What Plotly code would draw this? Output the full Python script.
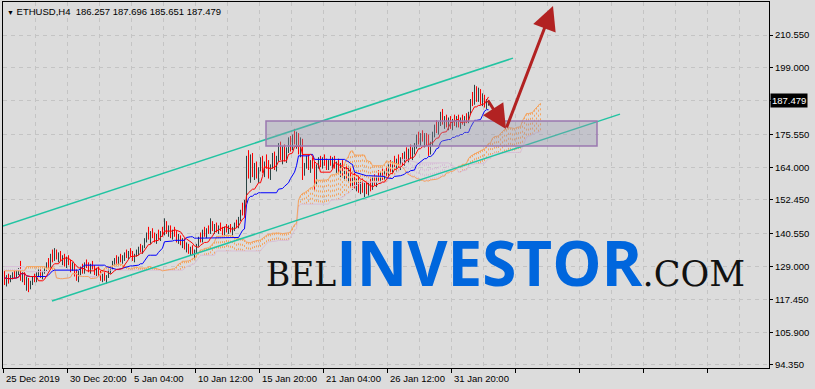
import plotly.graph_objects as go
import pandas as pd

# ---------------- data (ETHUSD, H4) ----------------
opens = [
126.0,123.5,125.0,124.0,125.5,126.5,125.5,127.5,128.0,125.0,
126.5,123.0,124.5,121.5,123.5,125.0,124.0,126.5,127.5,125.5,
127.0,128.5,130.0,129.0,133.0,131.5,134.5,132.0,133.5,131.5,
132.5,130.0,131.5,130.0,128.0,129.5,126.5,125.0,127.0,128.5,
127.0,130.0,129.0,128.0,129.5,128.5,126.5,128.0,126.0,124.5,
126.0,124.5,125.5,127.5,128.5,130.5,131.5,130.5,132.0,131.0,
132.5,133.5,132.5,134.0,133.0,131.5,133.0,134.5,135.5,134.5,
136.0,138.5,140.0,139.0,140.5,139.5,138.0,140.0,139.0,141.0,
140.5,144.0,141.0,142.5,139.5,141.5,140.0,138.0,139.5,137.0,
138.5,135.5,136.5,134.0,135.5,133.5,134.5,136.5,139.0,138.0,
141.5,140.0,142.0,141.0,144.5,142.0,143.5,141.5,143.0,142.0,
140.5,142.5,141.5,143.0,141.5,142.5,144.0,143.0,146.0,148.5,
147.5,152.0,166.5,162.0,167.0,161.5,164.5,160.5,163.5,166.5,
162.5,165.5,164.0,161.0,164.5,168.0,164.0,167.5,171.5,167.0,
170.5,167.0,170.0,173.5,170.5,175.0,173.5,175.5,169.5,173.0,
162.0,164.5,167.0,163.5,166.0,164.5,158.5,164.5,166.5,165.0,
167.0,165.5,163.5,166.0,165.0,167.0,164.0,165.5,162.0,164.5,
161.5,163.5,160.5,162.5,157.5,160.0,157.0,159.0,156.0,158.5,
155.5,157.5,155.0,158.0,156.5,160.0,158.0,160.5,159.5,162.0,
160.0,162.5,161.5,164.5,162.5,165.5,164.5,166.5,165.0,167.0,
165.5,169.0,166.5,170.0,167.5,170.5,171.5,175.0,172.5,175.5,
173.5,175.0,172.0,169.5,172.5,176.0,178.5,177.0,179.5,183.0,
179.5,181.5,178.5,181.0,178.0,180.5,179.0,181.5,178.5,181.0,
179.5,181.5,180.0,183.0,187.5,186.5,191.5,188.0,191.0,186.5,189.0,185.5,186.257]
highs = [
127.5,126.0,126.5,126.0,127.0,127.5,128.0,128.5,131.0,127.0,
127.0,125.5,125.0,124.0,125.5,126.5,127.0,128.0,128.0,127.5,
129.0,130.5,132.0,133.5,135.0,135.5,135.0,134.0,134.5,133.0,
133.5,132.5,133.0,131.5,130.5,130.0,128.0,127.5,129.0,130.0,
130.5,131.5,130.5,130.0,131.0,129.5,128.5,129.0,127.5,126.5,
127.0,126.0,128.0,129.0,131.0,132.0,133.0,132.5,133.5,133.0,
134.0,135.0,134.5,135.5,134.5,133.5,135.0,136.0,137.0,136.5,
139.0,141.0,143.0,141.5,142.5,141.0,140.5,142.0,141.5,143.0,
146.0,145.0,143.5,143.5,142.0,143.0,141.5,140.5,140.0,139.0,
139.0,137.5,137.0,136.0,136.5,135.0,137.0,139.5,141.0,142.0,
143.0,142.5,143.5,146.0,145.0,144.0,144.5,143.5,144.5,143.0,
143.0,144.0,143.5,144.0,143.0,144.5,145.5,146.5,149.0,151.5,
152.5,168.0,170.0,168.5,169.0,165.5,166.0,164.0,167.5,168.0,
166.0,168.5,166.5,165.0,169.0,169.5,168.0,172.5,173.0,171.5,
172.0,171.0,174.5,175.0,175.5,177.5,176.5,176.0,174.5,174.0,
165.5,168.0,168.5,166.5,167.5,166.0,165.0,167.5,168.0,167.5,
168.5,167.0,166.5,168.0,167.5,168.0,166.0,167.0,165.5,166.5,
164.0,165.0,164.5,164.0,161.0,162.0,160.0,160.5,159.5,160.0,
158.5,159.0,158.5,160.0,160.5,161.5,161.0,163.0,162.5,163.5,
163.0,164.0,165.0,166.5,166.0,168.0,167.0,168.5,167.5,169.0,
169.5,171.0,170.5,172.0,171.0,172.5,175.5,176.5,176.0,177.0,
176.0,176.0,175.5,173.0,176.5,179.0,180.5,180.0,183.5,184.5,
182.0,182.5,181.5,182.0,181.0,182.5,182.0,182.5,181.5,182.5,
182.0,183.0,183.5,188.0,190.5,193.0,192.5,192.0,191.5,190.0,189.5,188.0,187.696]
lows = [
122.5,122.0,123.0,123.5,124.5,125.0,125.0,126.0,124.0,123.5,
122.5,120.5,120.0,121.0,122.5,123.5,123.5,125.5,125.0,124.5,
126.5,127.5,128.5,128.5,130.5,131.0,131.5,130.5,131.0,129.5,
129.0,128.5,129.5,127.0,127.5,125.5,124.0,123.5,126.0,126.5,
126.5,128.5,127.0,126.5,128.0,126.0,125.5,125.5,124.0,123.5,
124.0,123.0,125.0,126.5,128.0,129.5,130.0,129.5,130.5,130.0,
131.0,132.0,131.5,132.5,131.0,130.5,132.5,133.0,134.0,133.5,
135.5,137.5,138.5,137.0,139.0,137.5,137.0,138.5,138.0,139.5,
140.0,140.5,139.5,139.0,138.5,139.5,137.5,137.0,136.5,135.5,
135.0,134.0,133.5,133.0,133.0,132.0,133.5,136.0,137.5,137.5,
139.5,139.0,140.5,140.5,141.5,140.5,141.0,140.5,141.5,140.0,
140.0,141.0,140.5,141.0,140.0,141.5,142.5,142.5,145.0,147.0,
147.0,151.5,160.0,158.5,160.5,159.5,160.0,158.5,162.5,162.0,
160.5,163.5,160.0,159.5,163.5,163.0,162.5,166.0,166.5,165.0,
166.0,165.5,169.0,169.5,170.0,172.0,170.5,168.5,167.5,159.5,
161.0,163.5,163.0,162.0,163.5,156.0,158.0,163.5,164.0,163.5,
164.5,163.0,163.0,164.5,163.5,163.5,162.0,161.5,160.5,161.0,
159.5,160.0,158.5,157.0,156.0,156.5,155.5,155.0,154.5,155.0,
153.5,154.5,154.0,155.5,156.0,157.5,157.0,159.0,158.5,159.5,
159.5,160.5,161.0,162.0,162.0,164.0,162.5,164.0,163.0,164.5,
164.5,166.0,165.5,167.0,166.5,168.5,170.5,172.0,171.5,173.0,
171.0,171.5,168.0,168.5,171.5,174.5,176.0,175.5,178.5,179.0,
177.5,178.0,177.0,177.5,177.0,178.5,178.0,178.0,177.5,179.0,
178.5,179.5,179.5,182.5,185.5,186.0,187.0,187.0,186.0,185.5,185.0,184.5,185.651]
closes = [
123.5,125.0,124.0,125.5,126.5,125.5,127.5,128.0,125.0,126.5,
123.0,124.5,121.5,123.5,125.0,124.0,126.5,127.5,125.5,127.0,
128.5,130.0,129.0,133.0,131.5,134.5,132.0,133.5,131.5,132.5,
130.0,131.5,130.0,128.0,129.5,126.5,125.0,127.0,128.5,127.0,
130.0,129.0,128.0,129.5,128.5,126.5,128.0,126.0,124.5,126.0,
124.5,125.5,127.5,128.5,130.5,131.5,130.5,132.0,131.0,132.5,
133.5,132.5,134.0,133.0,131.5,133.0,134.5,135.5,134.5,136.0,
138.5,140.0,139.0,140.5,139.5,138.0,140.0,139.0,141.0,140.5,
144.0,141.0,142.5,139.5,141.5,140.0,138.0,139.5,137.0,138.5,
135.5,136.5,134.0,135.5,133.5,134.5,136.5,139.0,138.0,141.5,
140.0,142.0,141.0,144.5,142.0,143.5,141.5,143.0,142.0,140.5,
142.5,141.5,143.0,141.5,142.5,144.0,143.0,146.0,148.5,147.5,
152.0,166.5,162.0,167.0,161.5,164.5,160.5,163.5,166.5,162.5,
165.5,164.0,161.0,164.5,168.0,164.0,167.5,171.5,167.0,170.5,
167.0,170.0,173.5,170.5,175.0,173.5,175.5,169.5,173.0,162.0,
164.5,167.0,163.5,166.0,164.5,158.5,164.5,166.5,165.0,167.0,
165.5,163.5,166.0,165.0,167.0,164.0,165.5,162.0,164.5,161.5,
163.5,160.5,162.5,157.5,160.0,157.0,159.0,156.0,158.5,155.5,
157.5,155.0,158.0,156.5,160.0,158.0,160.5,159.5,162.0,160.0,
162.5,161.5,164.5,162.5,165.5,164.5,166.5,165.0,167.0,165.5,
169.0,166.5,170.0,167.5,170.5,171.5,175.0,172.5,175.5,173.5,
175.0,172.0,169.5,172.5,176.0,178.5,177.0,179.5,183.0,179.5,
181.5,178.5,181.0,178.0,180.5,179.0,181.5,178.5,181.0,179.5,
181.5,180.0,183.0,187.5,186.5,191.5,188.0,191.0,186.5,189.0,185.5,186.3,187.479]

# Ichimoku cloud values for the first 26 positions (from bars before the visible window)
span_a_pre = [127.5,127.5,127.5,127.5,127.5,127.5,127.5,127.5,127.5,127.5,127.5,
              129.0,129.0,129.0,129.0,129.0,129.0,129.0,129.0,129.0,129.0,
              128.5,128.5,128.5,128.5,128.5]
span_b_pre = [129.0,129.0,129.0,129.0,129.0,129.0,129.0,129.0,129.0,129.0,129.0,
              127.2,127.2,127.2,127.2,127.2,127.2,127.2,127.2,127.2,127.2,
              127.2,127.2,127.2,127.2,127.2]

# axis ticks
y_tickvals = [94.35, 105.9, 117.45, 129.0, 140.55, 152.45, 164.0, 175.55, 187.45, 199.0, 210.55]
y_ticktext = ["94.350", "105.900", "117.450", "129.000", "140.550", "152.450",
              "164.000", "175.550", "", "199.000", "210.550"]
x_label_bars = [0, 32, 64, 96, 128, 160, 192, 224]
x_labels = ["25 Dec 2019", "30 Dec 20:00", "5 Jan 04:00", "10 Jan 12:00",
            "15 Jan 20:00", "21 Jan 04:00", "26 Jan 12:00", "31 Jan 20:00"]

# drawn objects (in bar index / price units)
channel_upper_x = [-0.75, 254.25]
channel_upper_y = [143.3, 202.4]
channel_lower_x = [23.75, 307.75]
channel_lower_y = [116.9, 182.7]
zone_x = [130.75, 296.25]
zone_y = [171.5, 180.3]
arrow_down_x = [241.25, 250.75]
arrow_down_y = [188.0, 177.45]
arrow_up_x = [250.75, 274.25]
arrow_up_y = [177.45, 220.8]

last_price = closes[-1]

# ---------------- Ichimoku lines from the bars ----------------
n = len(closes)
idx = list(range(n))
hs = pd.Series(highs)
ls = pd.Series(lows)


def midline(p):
    return (hs.rolling(p, min_periods=1).max() + ls.rolling(p, min_periods=1).min()) / 2


tenkan = midline(9)
kijun = midline(26)
span_a = list(span_a_pre) + list((tenkan + kijun) / 2)
span_b = list(span_b_pre) + list(midline(52))
cloud_x = list(range(len(span_a)))

BG = "#DCDCDC"
FONT = "Liberation Sans"

fig = go.Figure()

up_x, up_y, dn_x, dn_y = [], [], [], []
for j, (a, b) in enumerate(zip(span_a, span_b)):
    if a >= b:
        up_x += [j, j, None]
        up_y += [a, b, None]
    else:
        dn_x += [j, j, None]
        dn_y += [a, b, None]

fig.add_trace(go.Scatter(x=dn_x, y=dn_y, mode="lines",
                         line=dict(color="#D8BFD8", width=1, dash="2px,3px"), hoverinfo="skip"))
fig.add_trace(go.Scatter(x=up_x, y=up_y, mode="lines",
                         line=dict(color="#F4A460", width=1, dash="2px,3px"), hoverinfo="skip"))
fig.add_trace(go.Scatter(x=cloud_x, y=span_b, mode="lines",
                         line=dict(color="#D8BFD8", width=1), hoverinfo="skip"))
fig.add_trace(go.Scatter(x=cloud_x, y=span_a, mode="lines",
                         line=dict(color="#F4A460", width=1), hoverinfo="skip"))

fig.add_trace(go.Ohlc(x=idx, open=opens, high=highs, low=lows, close=closes,
                      increasing=dict(line=dict(color="#2A4444", width=1)),
                      decreasing=dict(line=dict(color="#FF0000", width=1)),
                      tickwidth=0.2, hoverinfo="skip"))

fig.add_trace(go.Scatter(x=idx, y=list(kijun), mode="lines",
                         line=dict(color="#0000FF", width=1), hoverinfo="skip"))
fig.add_trace(go.Scatter(x=idx, y=list(tenkan), mode="lines",
                         line=dict(color="#FF0000", width=1), hoverinfo="skip"))

fig.add_trace(go.Scatter(x=channel_upper_x, y=channel_upper_y, mode="lines",
                         line=dict(color="#22C4A2", width=1.5), hoverinfo="skip"))
fig.add_trace(go.Scatter(x=channel_lower_x, y=channel_lower_y, mode="lines",
                         line=dict(color="#22C4A2", width=1.5), hoverinfo="skip"))

fig.add_shape(type="rect", xref="x", yref="y", x0=zone_x[0], x1=zone_x[1],
              y0=zone_y[0], y1=zone_y[1], layer="above",
              fillcolor="rgba(150,150,172,0.35)", line=dict(color="#9A78B0", width=1.5))

for ax_, ay_ in ((arrow_down_x, arrow_down_y), (arrow_up_x, arrow_up_y)):
    fig.add_annotation(x=ax_[1], y=ay_[1], ax=ax_[0], ay=ay_[0], xref="x", yref="y",
                       axref="x", ayref="y", text="", showarrow=True, arrowhead=2,
                       arrowsize=1.6, arrowwidth=3, arrowcolor="#B22222", standoff=0)

# x labels (left-aligned at tick marks)
for b, t in zip(x_label_bars, x_labels):
    fig.add_annotation(x=b - 0.75, y=0, xref="x", yref="paper", text=t, showarrow=False,
                       xanchor="left", yanchor="top", yshift=-3, xshift=1,
                       font=dict(family=FONT, size=9.5, color="black"))

# header
fig.add_annotation(x=0, y=1, xref="paper", yref="paper", showarrow=False,
                   xanchor="left", yanchor="top", xshift=2, yshift=-2,
                   text="<span style='font-size:7px'>▼</span> ETHUSD,H4\u00a0\u00a0186.257 187.696 185.651 187.479",
                   font=dict(family=FONT, size=9.5, color="black"))

# current price label
fig.add_annotation(x=1, y=last_price, xref="paper", yref="y", showarrow=False,
                   xanchor="left", yanchor="middle", xshift=1, text="187.479",
                   bgcolor="black", borderpad=1,
                   font=dict(family=FONT, size=9.5, color="white"))

# watermark
fig.add_annotation(x=(264 - 3) / 766, y=(368 - 262) / 366, xref="paper", yref="paper",
                   showarrow=False, xanchor="left", yanchor="middle",
                   text=("<span style='font-family:DejaVu Serif;font-size:33px;color:#111111'>BEL</span>"
                         "<span style='font-family:Open Sans;font-size:62px;color:#0066DD'><b>INVESTOR</b></span>"
                         "<span style='font-family:DejaVu Serif;font-size:35px;color:#111111'>.COM</span>"),
                   font=dict(family="Open Sans", size=33, color="#111111"))

grid = "#C4C4C4"
fig.update_layout(
    width=815, height=389, autosize=False,
    margin=dict(l=3, r=46, t=2, b=21, pad=0),
    paper_bgcolor=BG, plot_bgcolor=BG,
    showlegend=False, hovermode=False,
    font=dict(family=FONT, size=9.5, color="black"),
    xaxis=dict(range=[-0.75, 382.25], tickvals=[32 * k - 0.75 for k in range(13)],
               ticktext=[""] * 13, ticks="outside", ticklen=4, tickcolor="black",
               showline=True, linecolor="black", linewidth=1, mirror=True,
               showgrid=True, gridcolor=grid, griddash="4px,4px", zeroline=False,
               rangeslider=dict(visible=False),
               minor=dict(tickvals=[32 * k + 15.25 for k in range(12)], showgrid=True,
                          gridcolor=grid, griddash="4px,4px", ticks="")),
    yaxis=dict(range=[93.29, 222.17], side="right", tickvals=y_tickvals, ticktext=y_ticktext,
               ticks="outside", ticklen=3, tickcolor="black",
               showline=True, linecolor="black", linewidth=1, mirror=True,
               showgrid=True, gridcolor=grid, griddash="4px,4px", zeroline=False,
               tickfont=dict(family=FONT, size=9.5, color="black")),
)

fig.write_html("out.html")
